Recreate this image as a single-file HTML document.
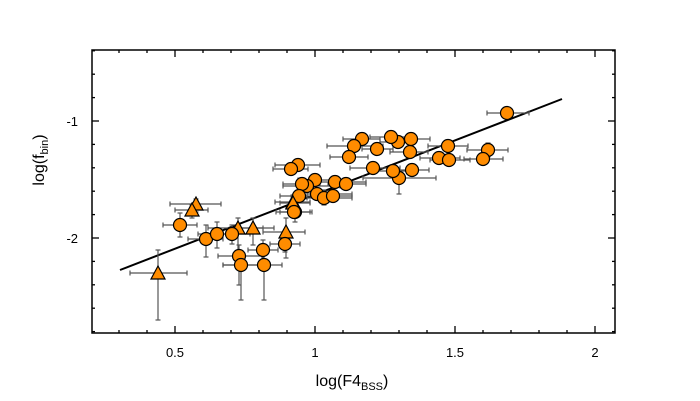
<!DOCTYPE html>
<html><head><meta charset="utf-8"><style>body{margin:0;background:#fff}svg{display:block}text{font-family:"Liberation Sans",sans-serif;fill:#000}</style></head><body>
<svg id="s" width="700" height="401" viewBox="0 0 700 401" xmlns="http://www.w3.org/2000/svg">
<rect x="92" y="50" width="523" height="283" fill="none" stroke="#000" stroke-width="1.5"/>
<g id="ticks" stroke="#000" stroke-width="1.3"></g>
<text x="175" y="357" font-size="13" text-anchor="middle">0.5</text>
<text x="315" y="357" font-size="13" text-anchor="middle">1</text>
<text x="455" y="357" font-size="13" text-anchor="middle">1.5</text>
<text x="595" y="357" font-size="13" text-anchor="middle">2</text>
<text x="78" y="126" font-size="13" text-anchor="end">-1</text>
<text x="78" y="243" font-size="13" text-anchor="end">-2</text>
<text x="352" y="386" font-size="16" text-anchor="middle">log(F4<tspan font-size="11" dy="4">BSS</tspan><tspan dy="-4">)</tspan></text>
<text transform="translate(44,160) rotate(-90)" font-size="16" text-anchor="middle">log(f<tspan font-size="11" dy="4">bin</tspan><tspan dy="-4">)</tspan></text>
<line x1="120" y1="270" x2="562" y2="99" stroke="#000" stroke-width="2"/>
<g id="err" stroke="#555" stroke-width="1.2"></g>
<g id="pts" fill="#ff8c00" stroke="#000" stroke-width="1.2"></g>
</svg>
<script>
var NS="http://www.w3.org/2000/svg";
function el(p,t,a){var e=document.createElementNS(NS,t);for(var k in a)e.setAttribute(k,a[k]);p.appendChild(e);}
var T=document.getElementById('ticks');
for(var v=0.3;v<=2.001;v+=0.1){var x=175+(v-0.5)*280;var maj=Math.abs(v*2-Math.round(v*2))<0.01;var L=maj?7:3;
el(T,'line',{x1:x,y1:333,x2:x,y2:333-L});el(T,'line',{x1:x,y1:50,x2:x,y2:50+L});}
for(var w=-2.8;w<=-0.39;w+=0.2){var y=121-(w+1)*117;var maj=Math.abs(w-Math.round(w))<0.01;var L=maj?7:3;
el(T,'line',{x1:92,y1:y,x2:92+L,y2:y});el(T,'line',{x1:615,y1:y,x2:615-L,y2:y});}
// x,y,xl,xr,yt,yb,type
var P=[
[158,273,130,187,250,320,1],[196,204,170,221,199,212,1],[192,210,175,208,205,218,1],
[180,225,163,197,213,237,0],[206,239,188,223,225,257,0],[217,234,198,237,222,248,0],
[238,228,208,263,218,257,1],[232,234,215,250,225,244,0],[253,228,232,274,218,245,1],
[239,256,218,262,245,285,0],[241,265,223,270,255,300,0],[263,250,248,278,240,262,0],
[264,265,223,282,255,300,0],[286,232,263,305,218,258,1],[285,244,270,300,236,252,0],
[293,202,275,310,195,212,1],[295,212,280,312,204,222,0],
[507,113,487,529,108,118,0],[448,146,428,468,140,152,0],[488,150,467,508,143,157,0],
[483,159,464,503,153,165,0],[439,158,420,460,152,164,0],[449,160,430,470,154,166,0],
[412,170,395,429,164,176,0],[399,178,363,436,172,194,0],[393,171,375,410,165,177,0],
[373,168,350,400,162,174,0],[410,152,390,428,146,158,0],[411,139,390,430,133,145,0],
[398,142,380,415,136,148,0],[391,137,370,412,131,143,0],[377,149,362,393,143,155,0],
[362,139,343,380,133,145,0],[354,146,327,383,140,152,0],[349,157,330,368,151,163,0],
[298,165,275,320,159,171,0],[291,169,273,308,163,175,0],[315,180,298,332,174,186,0],
[307,186,283,340,180,192,0],[302,184,283,320,178,190,0],[335,182,318,366,176,188,0],
[346,184,328,366,178,190,0],[317,194,307,352,188,200,0],[324,198,307,352,190,205,0],
[333,196,313,352,190,202,0],[299,196,280,330,190,202,0],[293,203,280,310,197,209,1],
[294,212,276,310,206,218,0]];
var E=document.getElementById('err'),G=document.getElementById('pts');
P.forEach(function(p){
el(E,'line',{x1:p[2],y1:p[1],x2:p[3],y2:p[1]});el(E,'line',{x1:p[2],y1:p[1]-2.5,x2:p[2],y2:p[1]+2.5});el(E,'line',{x1:p[3],y1:p[1]-2.5,x2:p[3],y2:p[1]+2.5});
el(E,'line',{x1:p[0],y1:p[4],x2:p[0],y2:p[5]});el(E,'line',{x1:p[0]-2.5,y1:p[4],x2:p[0]+2.5,y2:p[4]});el(E,'line',{x1:p[0]-2.5,y1:p[5],x2:p[0]+2.5,y2:p[5]});
if(p[6])el(G,'polygon',{points:(p[0]-7)+','+(p[1]+6)+' '+(p[0]+7)+','+(p[1]+6)+' '+p[0]+','+(p[1]-7)});
else el(G,'circle',{cx:p[0],cy:p[1],r:6.5});});
</script>
</body></html>
